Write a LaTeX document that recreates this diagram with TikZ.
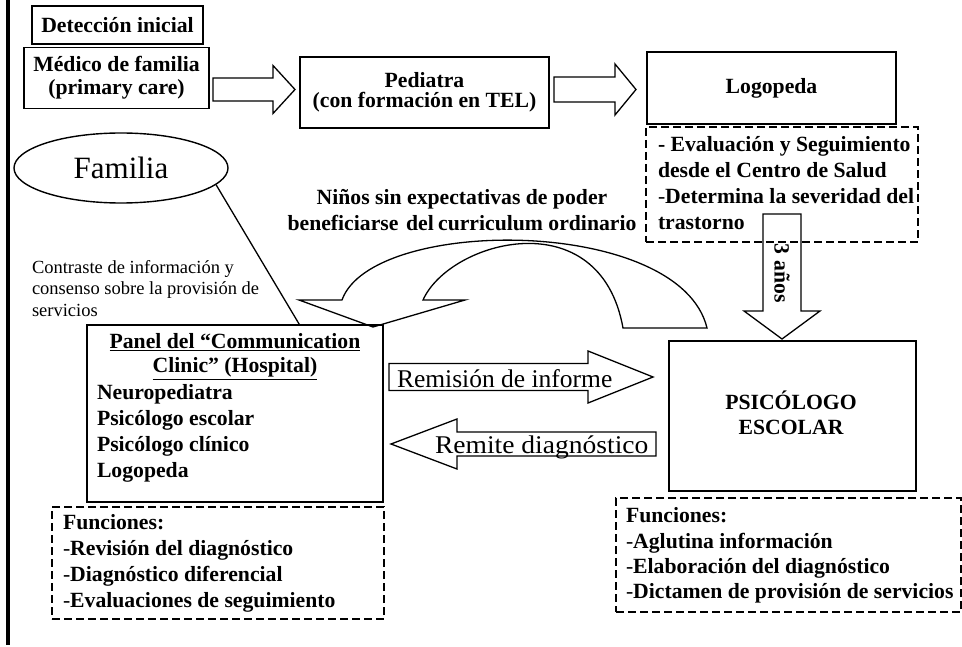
\documentclass[tikz,border=0pt]{standalone}
\usepackage{fontspec}
\setmainfont{Liberation Serif}
\usepackage{graphicx}
\usetikzlibrary{shapes.geometric,calc}
\newcommand\bfnt[1]{\fontsize{21.7}{#1}\selectfont\bfseries}
\newcommand\rfnt[2]{\fontsize{#1}{#2}\selectfont}
\newcommand\harrow[6]{\draw[barrow] (#1,#4-#5) -- (#2,#4-#5) -- (#2,#4-#6) -- (#3,#4) -- (#2,#4+#6) -- (#2,#4+#5) -- (#1,#4+#5) -- cycle;}
\newcommand\varrow[6]{\draw[barrow] (#4-#5,#1) -- (#4-#5,#2) -- (#4-#6,#2) -- (#4,#3) -- (#4+#6,#2) -- (#4+#5,#2) -- (#4+#5,#1) -- cycle;}
\tikzset{
 box/.style={draw, line width=1.6pt, inner sep=0pt, rectangle},
 dbox/.style={draw, line width=1.5pt, dash pattern=on 8pt off 4pt, inner sep=0pt, rectangle},
 barrow/.style={draw, line width=1.3pt, line join=miter},
 txt/.style={inner sep=0pt, outer sep=0pt},
}
\begin{document}
\begin{tikzpicture}[x=1pt,y=-1pt]
\fill[white] (0,0) rectangle (962,647);
\useasboundingbox (0,0) rectangle (962,647);
% left rule
\draw[line width=3.5pt] (8,0) -- (8,645);
% top row
\node[box, minimum width=171pt, minimum height=38pt, font=\bfnt{25}] (det) at (117.5,25) {Detección inicial};
\node[box, minimum width=185pt, minimum height=61pt, align=center, font=\bfnt{23}] (med) at (116.5,78) {Médico de familia\\(primary care)};
\node[box, minimum width=249pt, minimum height=71pt, align=center, font=\bfnt{20}] (ped) at (424.5,92.5) {Pediatra\\(con formación en TEL)};
\node[box, minimum width=249pt, minimum height=72pt, font=\bfnt{25}] (logo) at (771.5,88) {Logopeda};
\harrow{213}{273}{295}{89.5}{11.5}{24}
\harrow{554}{615}{636}{89.5}{12.5}{25.5}
% dashed box under Logopeda
\node[dbox, minimum width=272pt, minimum height=115pt] (eval) at (782,184.5) {};
\node[txt, anchor=north west, align=left, font=\bfnt{25.7}] (evaltxt) at (658,134) {\strut- Evaluación y Seguimiento\\desde el Centro de Salud\\\textmd{-}Determina la severidad del\\trastorno};
% 3 años arrow
\varrow{214}{311}{339}{782}{19}{38}
\node[txt, rotate=-90, font=\bfnt{25}] (tres) at (782,273) {3\hspace{0.3em}años};
% Familia
\node[ellipse, draw, line width=1.4pt, minimum width=214pt, minimum height=70pt, inner sep=0pt, font=\rfnt{31}{36}] (fam) at (121,168) {Familia};
\node[txt, anchor=north west, align=left, font=\rfnt{18.5}{21.5}] (contr) at (32,258) {\strut Contraste de información y\\consenso sobre la provisión de\\servicios};
% Niños
\node[txt, anchor=north, align=center, font=\bfnt{25.5}] (ninos) at (462,187) {\strut Niños sin expectativas de poder\\beneficiarse\hspace{0.35em}del\hspace{0.2em}curriculum ordinario};
% curved arrow
\draw[barrow] (707,328) -- (623,328) .. controls (600,200) and (450,240) .. (423,300) -- (465,300) -- (373,327) -- (299,300) -- (342,300) .. controls (372,216) and (680,216) .. (707,328) -- cycle;
% Panel
\node[box, minimum width=296pt, minimum height=177pt] (panel) at (235,413.5) {};
\node[txt, anchor=north, align=center, font=\bfnt{24}] (ptitle) at (235,332) {\strut\underline{Panel del “Communication}\\\underline{Clinic” (Hospital)}};
\node[txt, anchor=north west, align=left, font=\bfnt{26}] (plist) at (97,381) {\strut Neuropediatra\\Psicólogo escolar\\Psicólogo clínico\\Logopeda};
\draw[line width=1.3pt] (fam.-10) -- ($(panel.north west)+(213,0)$);
\node[dbox, minimum width=332pt, minimum height=112pt] (fun1) at (218,563) {};
\node[txt, anchor=north west, align=left, font=\bfnt{26}] (fun1txt) at (63,511) {\strut Funciones:\\\textmd{-}Revisión del diagnóstico\\\textmd{-}Diagnóstico diferencial\\\textmd{-}Evaluaciones de seguimiento};
% Psicologo escolar
\node[box, minimum width=247pt, minimum height=150pt] (psi) at (792.5,416) {};
\node[txt, anchor=north, align=center, font=\bfnt{25}] (psitxt) at (791,391) {\strut PSICÓLOGO\\ESCOLAR};
\node[dbox, minimum width=345pt, minimum height=114pt] (fun2) at (788.5,555) {};
\node[txt, anchor=north west, align=left, font=\bfnt{25.3}] (fun2txt) at (626,505) {\strut Funciones:\\\textmd{-}Aglutina información\\\textmd{-}Elaboración del diagnóstico\\\textmd{-}Dictamen de provisión de servicios};
% horizontal block arrows
\harrow{389}{588}{653}{377}{13.5}{26}
\node[txt, anchor=base west, font=\rfnt{25.5}{30}] (remis) at (397,387) {Remisión de informe};
\harrow{656}{457}{391}{444}{12}{25}
\node[txt, anchor=base west, font=\rfnt{25.5}{30}] (remite) at (435,453) {\scalebox{1.08}[1]{Remite diagnóstico}};
\end{tikzpicture}
\end{document}
